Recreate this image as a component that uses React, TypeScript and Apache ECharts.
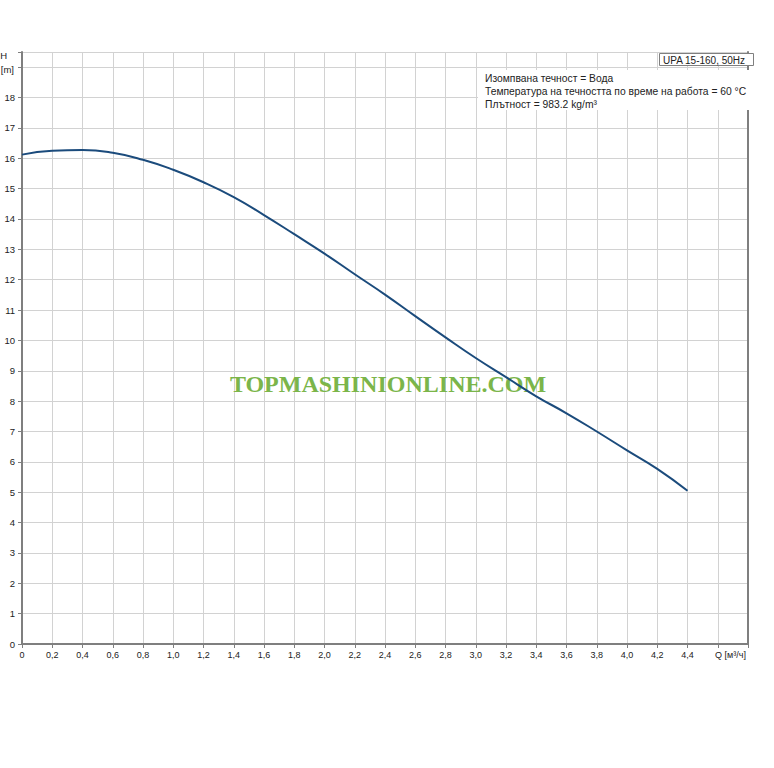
import React, { useEffect, useRef } from "react";
import * as echarts from "echarts";

const flowQ = [0, 0.2, 0.4, 0.6, 0.8, 1.0, 1.2, 1.4, 1.6, 1.8, 2.0, 2.2, 2.4, 2.6, 2.8, 3.0, 3.2, 3.4, 3.6, 3.8, 4.0, 4.2, 4.4];
const headH = [16.12, 16.25, 16.27, 16.18, 15.95, 15.62, 15.21, 14.72, 14.13, 13.5, 12.86, 12.18, 11.51, 10.8, 10.1, 9.42, 8.79, 8.16, 7.6, 7.0, 6.38, 5.77, 5.05];
const legendTitle = "UPA 15-160, 50Hz";
const infoLines = [
  "Изомпвана течност = Вода",
  "Температура на течността по време на работа = 60 °C",
  "Плътност = 983.2 kg/m³",
];
const xAxisTitle = "Q [м³/ч]";
const yAxisTitleTop = "H";
const yAxisTitleUnit = "[m]";
const watermark = "TOPMASHINIONLINE.COM";

const FONT = "Arial, 'Liberation Sans', sans-serif";

export default function App() {
  const ref = useRef<HTMLDivElement>(null);
  useEffect(() => {
    if (!ref.current) return;
    const chart = echarts.init(ref.current, null, { renderer: "svg" });
    const axisGray = "#7f7f7f";
    const gridGray = "#d2d2d2";
    chart.setOption({
      animation: false,
      backgroundColor: "#ffffff",
      grid: { left: 22, top: 52, right: 26, bottom: 124, containLabel: false },
      xAxis: {
        type: "value",
        min: 0,
        max: 4.8,
        interval: 0.2,
        axisLine: { show: true, lineStyle: { color: axisGray, width: 2 } },
        axisTick: { show: true, length: 4, lineStyle: { color: axisGray, width: 1 } },
        splitLine: { show: true, lineStyle: { color: gridGray, width: 1 } },
        axisLabel: {
          margin: 6,
          fontSize: 9,
          fontFamily: FONT,
          color: "#222",
          showMaxLabel: true,
          formatter: (v: number) => {
            if (v > 4.5) return "";
            return (Math.round(v * 10) / 10).toFixed(v === 0 ? 0 : 1).replace(".", ",");
          },
        },
      },
      yAxis: [
        {
          type: "value",
          min: 0,
          max: 19.5,
          interval: 1,
          axisLine: { show: true, lineStyle: { color: axisGray, width: 2 } },
          axisTick: { show: true, length: 4, lineStyle: { color: axisGray, width: 1 } },
          splitLine: { show: true, lineStyle: { color: gridGray, width: 1 } },
          axisLabel: {
            margin: 7,
            fontSize: 9.5,
            fontFamily: FONT,
            color: "#222",
            formatter: (v: number) => (v >= 19 ? "" : String(Math.round(v))),
          },
        },
        {
          type: "value",
          position: "right",
          min: 0,
          max: 19.5,
          interval: 1,
          axisLine: { show: true, lineStyle: { color: axisGray, width: 2 } },
          axisTick: { show: false },
          splitLine: { show: false },
          axisLabel: { show: false },
        },
      ],
      series: [
        {
          type: "line",
          yAxisIndex: 0,
          smooth: true,
          showSymbol: false,
          z: 5,
          lineStyle: { color: "#1b4b7c", width: 2 },
          data: flowQ.map((q, i) => [q, headH[i]]),
        },
      ],
      graphic: [
        {
          type: "text",
          z: 1,
          x: 388,
          y: 384,
          style: {
            text: watermark,
            fill: "#7bb54a",
            font: "bold 24px 'Liberation Serif', 'Times New Roman', serif",
            align: "center",
            verticalAlign: "middle",
          },
        },
        {
          type: "rect",
          z: 10,
          shape: { x: 478, y: 70, width: 274, height: 40 },
          style: { fill: "#ffffff" },
        },
        ...infoLines.map((t, i) => ({
          type: "text",
          z: 11,
          x: 485,
          y: 78 + i * 13,
          style: { text: t, fill: "#222", font: `10.3px ${FONT}`, verticalAlign: "middle" },
        })),
        {
          type: "rect",
          z: 10,
          shape: { x: 659.5, y: 53.5, width: 94, height: 12 },
          style: { fill: "#ffffff", stroke: "#7f7f7f", lineWidth: 1 },
        },
        {
          type: "text",
          z: 11,
          x: 663,
          y: 60,
          style: { text: legendTitle, fill: "#222", font: `10px ${FONT}`, verticalAlign: "middle" },
        },
        {
          type: "text",
          z: 11,
          x: 715,
          y: 655,
          style: { text: xAxisTitle, fill: "#222", font: `9px ${FONT}`, verticalAlign: "middle" },
        },
        {
          type: "text",
          z: 11,
          x: 7,
          y: 55,
          style: { text: yAxisTitleTop, fill: "#222", font: `9.5px ${FONT}`, align: "right", verticalAlign: "middle" },
        },
        {
          type: "text",
          z: 11,
          x: 14,
          y: 69,
          style: { text: yAxisTitleUnit, fill: "#222", font: `9.5px ${FONT}`, align: "right", verticalAlign: "middle" },
        },
      ],
    });
    return () => chart.dispose();
  }, []);
  return (
    <div
      ref={ref}
      style={{ position: "absolute", left: 0, top: 0, width: 774, height: 768 }}
    />
  );
}
